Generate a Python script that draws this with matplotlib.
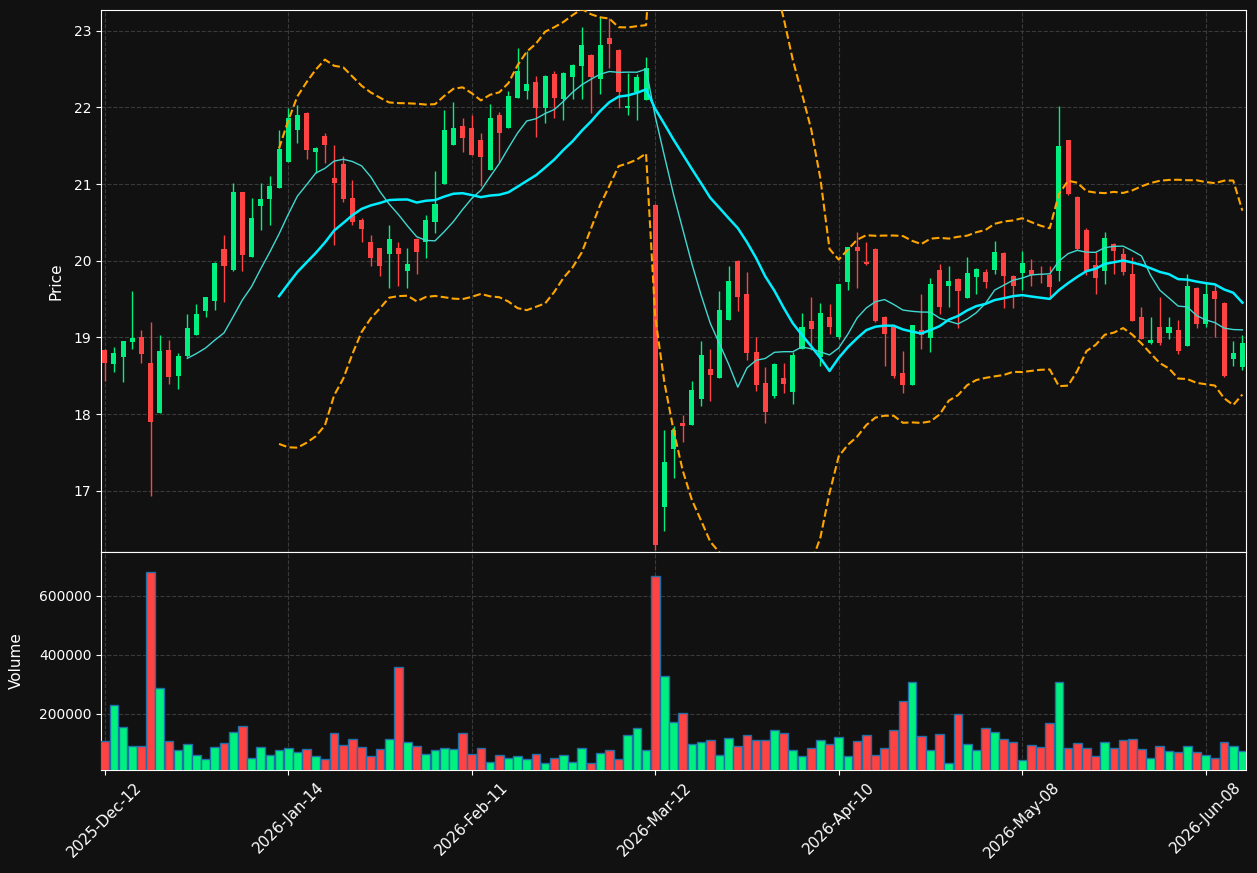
import matplotlib.pyplot as plt
import numpy as np
import pandas as pd

# OHLCV, one entry per trading day
opens = [18.83, 18.65, 18.74, 18.94, 19.00, 18.67, 18.01, 18.83, 18.50, 18.76,
         19.03, 19.35, 19.47, 20.15, 19.88, 20.89, 20.05, 20.72, 20.81, 20.95,
         21.29, 21.70, 21.93, 21.42, 21.63, 21.08, 21.26, 20.82, 20.53, 20.24,
         20.16, 20.09, 20.16, 19.87, 20.28, 20.24, 20.51, 21.00, 21.51, 21.76,
         21.73, 21.58, 21.18, 21.90, 21.73, 22.12, 22.22, 22.33, 21.99, 22.43,
         22.11, 22.40, 22.54, 22.69, 22.37, 22.91, 22.75, 21.99, 22.20, 22.10,
         20.73, 16.79, 17.55, 17.88, 17.86, 18.19, 18.59, 18.47, 19.22, 20.00,
         19.56, 18.81, 18.40, 18.24, 18.47, 18.29, 18.85, 19.21, 18.75, 19.27,
         19.01, 19.72, 20.18, 19.98, 20.15, 19.27, 19.14, 18.53, 18.38, 19.10,
         18.99, 19.88, 19.67, 19.76, 19.51, 19.79, 19.85, 19.88, 20.10, 19.80,
         19.84, 19.88, 19.83, 19.82, 19.86, 21.57, 20.83, 20.40, 19.94, 19.86,
         20.22, 20.09, 19.83, 19.27, 18.93, 19.14, 19.06, 19.10, 18.89, 19.65,
         19.17, 19.61, 19.45, 18.72, 18.61]
highs = [18.85, 18.88, 18.95, 19.60, 19.10, 19.20, 19.03, 18.96, 18.80, 19.31,
         19.44, 19.53, 19.98, 20.34, 21.01, 20.90, 20.82, 21.02, 21.10, 21.70,
         21.99, 22.03, 21.94, 21.48, 21.66, 21.51, 21.36, 21.05, 20.56, 20.33,
         20.17, 20.46, 20.24, 20.16, 20.29, 20.60, 21.17, 21.97, 22.07, 21.86,
         21.90, 21.66, 22.04, 21.94, 22.22, 22.77, 22.73, 22.41, 22.42, 22.48,
         22.46, 22.56, 23.05, 22.70, 23.19, 23.16, 22.76, 22.45, 22.43, 22.66,
         20.74, 17.79, 17.85, 17.99, 18.43, 18.95, 18.85, 19.60, 19.93, 20.01,
         19.85, 19.01, 18.61, 18.67, 18.67, 18.81, 19.32, 19.52, 19.45, 19.43,
         19.70, 20.18, 20.37, 20.24, 20.16, 19.28, 19.15, 18.82, 19.16, 19.56,
         19.77, 19.96, 19.93, 19.77, 20.05, 19.90, 19.89, 20.26, 20.11, 19.81,
         20.13, 20.02, 19.93, 19.93, 22.02, 21.58, 20.84, 20.43, 20.11, 20.37,
         20.23, 20.16, 20.05, 19.40, 19.27, 19.52, 19.26, 19.22, 19.83, 19.66,
         19.71, 19.68, 19.46, 18.95, 19.03]
lows = [18.43, 18.55, 18.42, 18.85, 18.67, 16.93, 18.01, 18.39, 18.32, 18.75,
        19.03, 19.27, 19.36, 19.46, 19.86, 19.86, 20.05, 20.40, 20.46, 20.95,
        21.29, 21.53, 21.33, 21.15, 21.27, 20.20, 20.77, 20.47, 20.24, 19.93,
        19.80, 19.64, 19.67, 19.65, 19.83, 20.03, 20.36, 21.00, 21.51, 21.42,
        21.38, 20.98, 21.18, 21.29, 21.73, 22.12, 22.11, 21.62, 21.80, 21.86,
        21.84, 22.11, 22.11, 21.93, 22.17, 22.52, 21.99, 21.90, 21.83, 22.10,
        16.22, 16.48, 17.17, 17.64, 17.86, 18.10, 18.17, 18.47, 19.22, 19.34,
        18.70, 18.30, 17.88, 18.21, 18.27, 18.13, 18.85, 18.83, 18.63, 19.05,
        18.98, 19.62, 19.65, 19.95, 19.20, 18.63, 18.47, 18.27, 18.38, 18.85,
        18.81, 19.30, 19.40, 19.12, 19.51, 19.56, 19.64, 19.83, 19.38, 19.38,
        19.62, 19.67, 19.71, 19.53, 19.73, 20.86, 20.14, 19.82, 19.56, 19.69,
        19.83, 19.82, 19.21, 18.98, 18.91, 18.90, 18.98, 18.78, 18.89, 19.12,
        19.13, 19.01, 18.48, 18.63, 18.58]
closes = [18.67, 18.79, 18.95, 18.99, 18.78, 17.90, 18.82, 18.48, 18.76, 19.12,
          19.30, 19.52, 19.97, 19.93, 20.90, 20.07, 20.56, 20.80, 20.98, 21.46,
          21.86, 21.90, 21.44, 21.47, 21.51, 21.01, 20.80, 20.51, 20.41, 20.03,
          19.93, 20.28, 20.09, 19.96, 20.11, 20.53, 20.74, 21.70, 21.73, 21.60,
          21.38, 21.35, 21.86, 21.67, 22.15, 22.48, 22.31, 21.99, 22.41, 22.12,
          22.45, 22.55, 22.82, 22.39, 22.81, 22.83, 22.20, 22.02, 22.40, 22.52,
          16.29, 17.38, 17.79, 17.85, 18.31, 18.77, 18.51, 19.36, 19.73, 19.52,
          18.79, 18.38, 18.03, 18.65, 18.39, 18.77, 19.14, 19.11, 19.32, 19.13,
          19.70, 20.18, 20.13, 19.96, 19.21, 19.05, 18.50, 18.38, 19.16, 19.03,
          19.69, 19.40, 19.73, 19.60, 19.84, 19.89, 19.72, 20.11, 19.80, 19.67,
          19.97, 19.82, 19.81, 19.66, 21.49, 20.87, 20.15, 19.87, 19.78, 20.29,
          20.13, 19.85, 19.21, 18.98, 18.96, 18.93, 19.13, 18.82, 19.67, 19.17,
          19.56, 19.50, 18.49, 18.79, 18.92]
volumes = [107600, 230300, 154700, 90800, 90800, 679100, 287500, 107600, 77300, 97500,
           62200, 48700, 87400, 100900, 137800, 158000, 52100, 87400, 62200, 77300,
           84000, 70600, 80700, 58800, 48700, 134500, 94100, 114300, 87400, 58800,
           80700, 114300, 359700, 104200, 90800, 65600, 77300, 84000, 80700, 134500,
           65600, 84000, 38700, 62200, 52100, 58800, 48700, 65600, 35300, 52100,
           62200, 38700, 84000, 35300, 68900, 77300, 48700, 127800, 151300, 77300,
           665700, 327800, 173100, 203400, 97500, 104200, 110900, 62200, 117700, 90800,
           127800, 110900, 110900, 144600, 134500, 77300, 58800, 84000, 110900, 97500,
           121000, 58800, 107600, 127800, 62200, 84000, 144600, 243700, 307600, 124400,
           79000, 131100, 35300, 198400, 97500, 79000, 151300, 137800, 114300, 104200,
           45400, 94100, 87400, 168100, 307600, 84000, 100900, 84000, 58800, 104200,
           84000, 110900, 114300, 80700, 52100, 90800, 74000, 70600, 90800, 70600,
           62200, 52100, 104200, 90800, 74000]

tick_pos = [0, 20, 40, 60, 80, 100, 120]
tick_labels = ['2025-Dec-12', '2026-Jan-14', '2026-Feb-11', '2026-Mar-12',
               '2026-Apr-10', '2026-May-08', '2026-Jun-08']

UP = '#00f080'
DOWN = '#ff4242'
BG = '#111111'

o = np.array(opens)
h = np.array(highs)
l = np.array(lows)
c = np.array(closes)
v = np.array(volumes)
x = np.arange(len(c))

close_s = pd.Series(c)
sma10 = close_s.rolling(10).mean()
sma20 = close_s.rolling(20).mean()
std20 = close_s.rolling(20).std(ddof=0)
upper = sma20 + 2 * std20
lower = sma20 - 2 * std20

fig = plt.figure(figsize=(12.57, 8.73), dpi=100, facecolor=BG)
ax = fig.add_axes([0.0804, 0.3677, 0.9109, 0.6208])
axv = fig.add_axes([0.0804, 0.118, 0.9109, 0.2497], sharex=ax)

for a in (ax, axv):
    a.set_facecolor(BG)
    for s in a.spines.values():
        s.set_color('white')
    a.tick_params(colors='white', labelsize=10)
    a.grid(True, color='#3a3a3a', linestyle='--', linewidth=0.8)
    a.set_axisbelow(True)

colors = [UP if cc >= oo else DOWN for oo, cc in zip(o, c)]

# candles
ax.vlines(x, l, h, colors=colors, linewidth=1, zorder=2)
body_lo = np.minimum(o, c)
body_h = np.maximum(np.abs(c - o), 0.02)
ax.bar(x, body_h, bottom=body_lo, width=0.55, color=colors, linewidth=0, zorder=3)

# indicators
ax.plot(x, sma10, color='#40d8d0', linewidth=1, zorder=4)
ax.plot(x, sma20, color='#00eeff', linewidth=1.8, zorder=4)
ax.plot(x, upper, color='orange', linestyle='--', linewidth=1.5, zorder=4)
ax.plot(x, lower, color='orange', linestyle='--', linewidth=1.5, zorder=4)

ax.set_ylim(16.20, 23.27)
ax.set_xlim(-0.4, 124.4)
ax.set_ylabel('Price', color='white', fontsize=11, labelpad=7)
plt.setp(ax.get_xticklabels(), visible=False)

# volume
axv.bar(x, v, width=0.95, color=colors, edgecolor='#1f6fa8', linewidth=1, zorder=3)
axv.set_ylim(0.3 * v.min(), 1.1 * v.max())
axv.set_yticks([200000, 400000, 600000])
axv.set_yticklabels(['200000', '400000', '600000'])
axv.set_ylabel('Volume', color='white', fontsize=11, labelpad=11)
axv.set_xticks(tick_pos)
axv.set_xticklabels(tick_labels, rotation=45, fontsize=11)

fig.savefig('out.png', dpi=100, facecolor=BG)
